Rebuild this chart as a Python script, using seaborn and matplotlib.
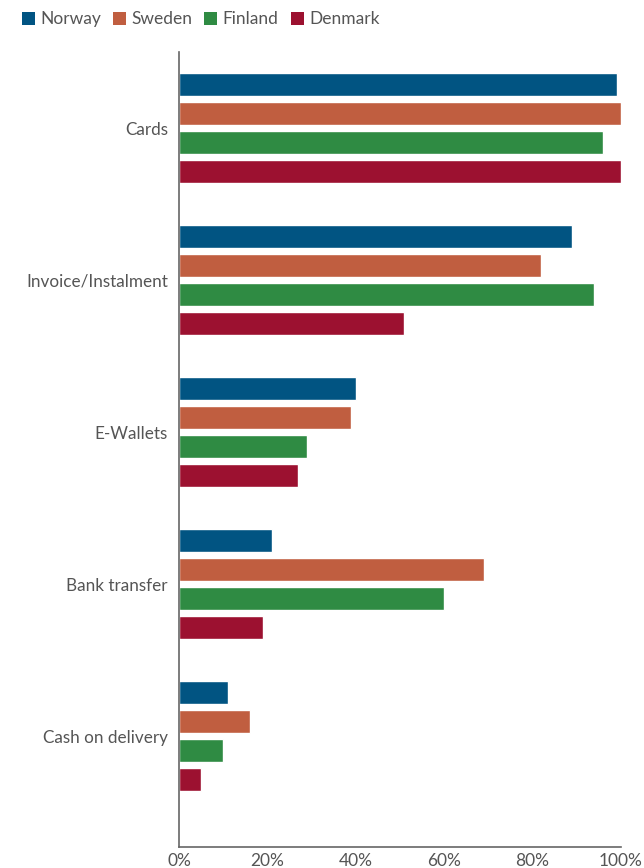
import matplotlib
matplotlib.use("Agg")
import matplotlib.pyplot as plt
import seaborn as sns
import pandas as pd
from matplotlib.patches import Patch
from matplotlib.ticker import PercentFormatter

methods = ["Cards", "Invoice/Instalment", "E-Wallets", "Bank transfer", "Cash on delivery"]
countries = ["Norway", "Sweden", "Finland", "Denmark"]
norway = [99, 89, 40, 21, 11]
sweden = [100, 82, 39, 69, 16]
finland = [96, 94, 29, 60, 10]
denmark = [100, 51, 27, 19, 5]
colors = ["#015482", "#C05E40", "#2F8B43", "#9C1130"]

rows = []
for country, vals in zip(countries, [norway, sweden, finland, denmark]):
    for m, v in zip(methods, vals):
        rows.append({"Method": m, "Country": country, "Share": v})
df = pd.DataFrame(rows)

sns.set_style("white")
plt.rcParams["font.family"] = ["Lato", "DejaVu Sans"]
text_color = "#555555"

fig = plt.figure(figsize=(6.44, 8.68), dpi=100)
ax = fig.add_axes([179 / 644, 21 / 868, 442 / 644, (847 - 52) / 868])

sns.barplot(data=df, y="Method", x="Share", hue="Country", order=methods,
            hue_order=countries, palette=colors, orient="h",
            width=0.76, gap=0.2, saturation=1, legend=False, ax=ax)

ax.set_xlim(0, 100)
ax.set_ylim(4.73, -0.5)
ax.set_xticks([0, 20, 40, 60, 80, 100])
ax.xaxis.set_major_formatter(PercentFormatter(decimals=0))
ax.set_xlabel("")
ax.set_ylabel("")

for side in ["top", "right"]:
    ax.spines[side].set_visible(False)
for side in ["left", "bottom"]:
    ax.spines[side].set_color("#666666")
    ax.spines[side].set_linewidth(1.2)

ax.tick_params(axis="x", direction="in", length=8, width=1.2, color="#666666",
               labelsize=12.5, labelcolor=text_color, pad=4)
ax.tick_params(axis="y", length=0, labelsize=12.3, labelcolor=text_color, pad=8)

handles = [Patch(facecolor=c, edgecolor="none") for c in colors]
fig.legend(handles, countries, loc="upper left", bbox_to_anchor=(0.015, 1.001),
           ncol=4, frameon=False, fontsize=12.5, labelcolor=text_color,
           handlelength=0.75, handleheight=0.75, handletextpad=0.3,
           columnspacing=0.7, borderaxespad=0.3)

fig.savefig("out.png", dpi=100)
